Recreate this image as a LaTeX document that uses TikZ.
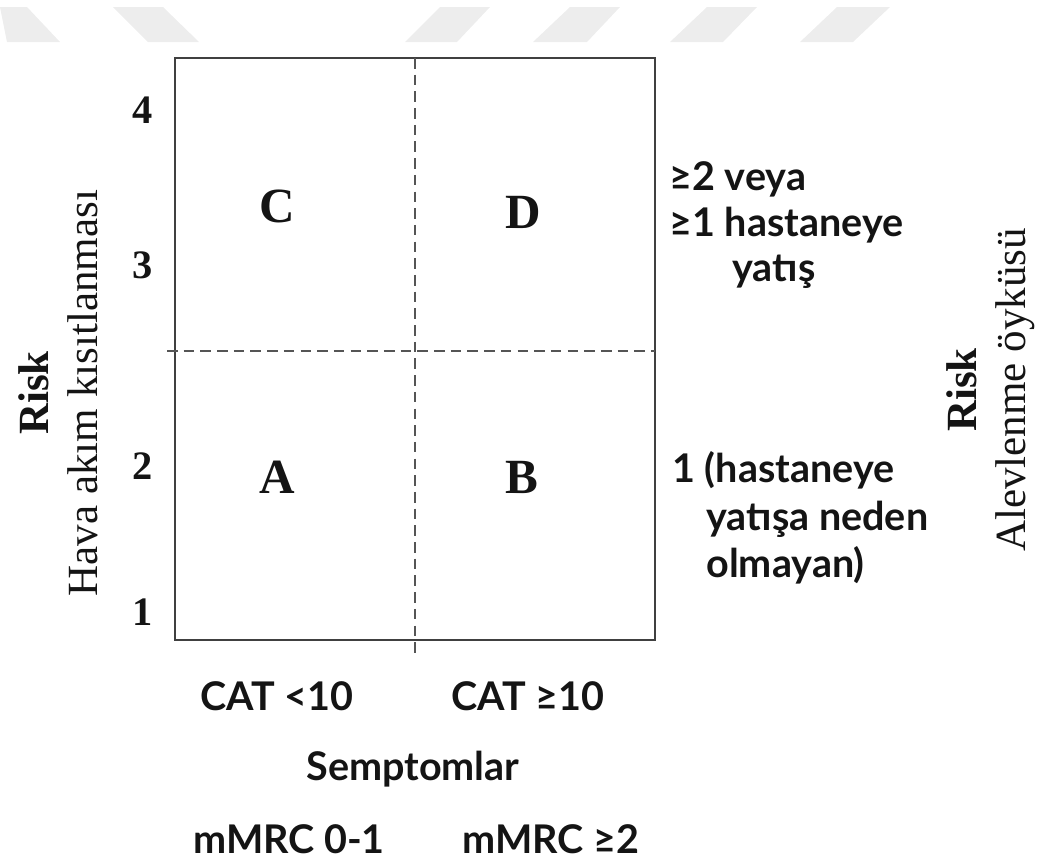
\documentclass[tikz,border=0pt]{standalone}
\usepackage{fontspec}
\usepackage{tikz}
\usetikzlibrary{positioning, calc}
\setmainfont{Liberation Serif}
\newfontfamily\humsans{Lato}
\definecolor{frame}{HTML}{404040}
\definecolor{dashc}{HTML}{555555}
\definecolor{wmark}{HTML}{EDEDED}
\definecolor{ink}{HTML}{141414}

\begin{document}
\begin{tikzpicture}[x=0.02cm, y=-0.02cm,
  cell/.style={text=ink, font=\fontsize{28}{32}\selectfont\bfseries, inner sep=0pt},
  tick/.style={text=ink, font=\fontsize{23}{27}\selectfont\bfseries, inner sep=0pt},
  axis/.style={text=ink, font=\fontsize{24.5}{28}\selectfont, align=center, rotate=90, inner sep=0pt},
  note/.style={text=ink, font=\humsans\fontsize{22.5}{26}\selectfont\bfseries, anchor=base west, inner sep=0pt},
  cat/.style={text=ink, font=\humsans\fontsize{22.5}{26}\selectfont\bfseries, anchor=base, inner sep=0pt},
  split/.style={dashc, line width=1pt, dash pattern=on 6pt off 3.5pt}]
  \useasboundingbox (0,0) rectangle (1045,863);
  % watermark bands at the top
  \foreach \a/\b/\c/\d in {0/27/60/7, 113/163/199/148}
    \fill[wmark] (\a,7) -- (\b,7) -- (\c,42) -- (\d,42) -- cycle;
  \foreach \a/\b/\c/\d in {440/490/457/405, 570/620/587/533, 707/757/723/670, 837/890/853/800}
    \fill[wmark] (\a,7) -- (\b,7) -- (\c,42) -- (\d,42) -- cycle;
  % grid
  \coordinate (nw) at (175,58);
  \coordinate (se) at (655,640);
  \coordinate (midl) at (167,351);
  \coordinate (midr) at (655,351);
  \coordinate (midt) at (415,58);
  \coordinate (midb) at (415,656);
  \draw[frame, line width=1.2pt] (nw) rectangle (se);
  \draw[split] (midl) -- (midr);
  \draw[split] (midt) -- (midb);
  \node[cell] (c) at (277,206) {C};
  \node[cell] (d) at (523,212) {D};
  \node[cell] (a) at (277,477) {A};
  \node[cell] (b) at (522,477) {B};
  \node[tick] (t4) at (143,110) {4};
  \node[tick] (t3) at (143,265) {3};
  \node[tick] (t2) at (143,466) {2};
  \node[tick] (t1) at (143,612) {1};
  \node[axis] (airflow) at (58,393) {\textbf{Risk}\\Hava akım kısıtlanması};
  \node[axis] (flare) at (991,390) {\textbf{Risk}\\Alevlenme öyküsü};
  \node[note] (hi1) at (669,190) {≥2 veya};
  \node[note] (hi2) at (669,236) {≥1 hastaneye};
  \node[note] (hi3) at (732,281) {yatış};
  \node[note] (lo1) at (672,482) {1 (hastaneye};
  \node[note] (lo2) at (706,530) {yatışa neden};
  \node[note] (lo3) at (706,577) {olmayan)};
  \node[cat] (catlo) at (277,710) {CAT <10};
  \node[cat] (cathi) at (528,710) {CAT ≥10};
  \node[cat] (sym) at (413,780) {Semptomlar};
  \node[cat] (mrclo) at (289,853) {mMRC 0-1};
  \node[cat] (mrchi) at (551,853) {mMRC ≥2};
\end{tikzpicture}
\end{document}
